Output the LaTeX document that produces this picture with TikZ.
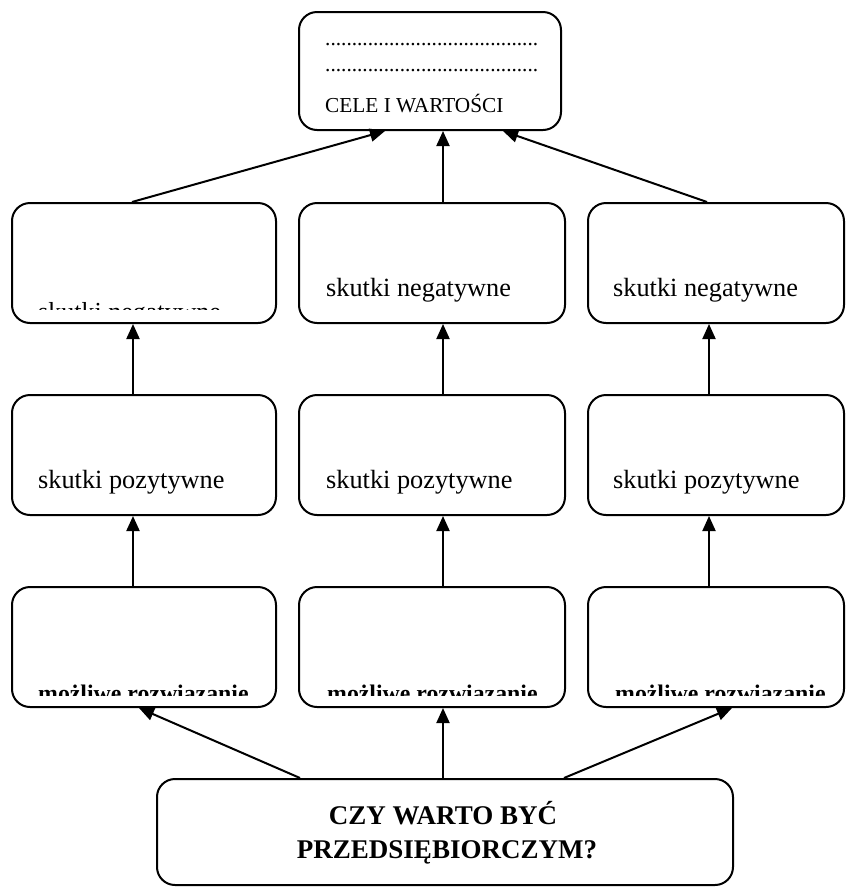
\documentclass[tikz,border=0pt]{standalone}
\usepackage{fontspec}
\setmainfont{Liberation Serif}
\usetikzlibrary{arrows.meta}

\begin{document}
\begin{tikzpicture}[x=1pt,y=-1pt,
	box/.style={draw,rounded corners=18pt,line width=2pt,inner sep=0pt,minimum height=120pt},
	txt/.style={anchor=base west,inner sep=0pt,font=\fontsize{26.3}{31}\selectfont},
	small/.style={anchor=base west,inner sep=0pt,font=\fontsize{21.3}{25}\selectfont},
	sol/.style={anchor=base west,inner sep=0pt,font=\fontsize{23.8}{28}\selectfont\bfseries},
	link/.style={line width=2pt,-{Triangle[length=15pt,width=13pt]}}]
	\useasboundingbox (0,0) rectangle (846,895);
%		top
		\node[box,minimum width=262pt,minimum height=118pt] (cele) at (430,71) {};
		\node[small] (dots1) at (325,45) {........................................};
		\node[small] (dots2) at (325,71) {........................................};
		\node[small] (celet) at (325,112) {CELE I WARTOŚCI};
%		negative
		\node[box,minimum width=264pt] (negl) at (144,263) {};
		\node[box,minimum width=266pt] (negm) at (432,263) {};
		\node[box,minimum width=256pt] (negr) at (716,263) {};
		\begin{scope}
			\clip (12,203) rectangle (276,309);
			\node[txt,font=\fontsize{26}{31}\selectfont] (neglt) at (38,320) {skutki negatywne};
		\end{scope}
		\node[txt] (negmt) at (326,296) {skutki negatywne};
		\node[txt] (negrt) at (613,296) {skutki negatywne};
%		positive
		\node[box,minimum width=264pt] (posl) at (144,455) {};
		\node[box,minimum width=266pt] (posm) at (432,455) {};
		\node[box,minimum width=256pt] (posr) at (716,455) {};
		\node[txt] (poslt) at (38,488) {skutki pozytywne};
		\node[txt] (posmt) at (326,488) {skutki pozytywne};
		\node[txt] (posrt) at (613,488) {skutki pozytywne};
%		solutions
		\node[box,minimum width=264pt] (soll) at (144,647) {};
		\node[box,minimum width=266pt] (solm) at (432,647) {};
		\node[box,minimum width=256pt] (solr) at (716,647) {};
		\begin{scope}
			\clip (12,587) rectangle (844,695);
			\node[sol] (sollt) at (38,701) {możliwe rozwiązanie};
			\node[sol] (solmt) at (327,701) {możliwe rozwiązanie};
			\node[sol] (solrt) at (615,701) {możliwe rozwiązanie};
		\end{scope}
%		question
		\node[box,minimum width=576pt,minimum height=106pt] (czy) at (445,832) {};
		\node[anchor=base,inner sep=0pt,font=\fontsize{27}{32}\selectfont\bfseries] (czy1) at (443,824) {CZY WARTO BYĆ};
		\node[anchor=base,inner sep=0pt,font=\fontsize{27}{32}\selectfont\bfseries] (czy2) at (447,858) {PRZEDSIĘBIORCZYM?};
%		arrows
		\draw[link] ([xshift=-145pt]czy.north) -- ([xshift=-5pt]soll.south);
		\draw[link] ([xshift=-2pt]czy.north) -- ([xshift=11pt]solm.south);
		\draw[link] ([xshift=119pt]czy.north) -- ([xshift=16pt]solr.south);
		\draw[link] ([xshift=-11pt]soll.north) -- ([xshift=-11pt]posl.south);
		\draw[link] ([xshift=11pt]solm.north) -- ([xshift=11pt]posm.south);
		\draw[link] ([xshift=-7pt]solr.north) -- ([xshift=-7pt]posr.south);
		\draw[link] ([xshift=-11pt]posl.north) -- ([xshift=-11pt]negl.south);
		\draw[link] ([xshift=11pt]posm.north) -- ([xshift=11pt]negm.south);
		\draw[link] ([xshift=-7pt]posr.north) -- ([xshift=-7pt]negr.south);
		\draw[link] ([xshift=-12pt]negl.north) -- ([xshift=-45pt]cele.south);
		\draw[link] ([xshift=11pt]negm.north) -- ([xshift=13pt]cele.south);
		\draw[link] ([xshift=-9pt]negr.north) -- ([xshift=73pt]cele.south);
\end{tikzpicture}
\end{document}
